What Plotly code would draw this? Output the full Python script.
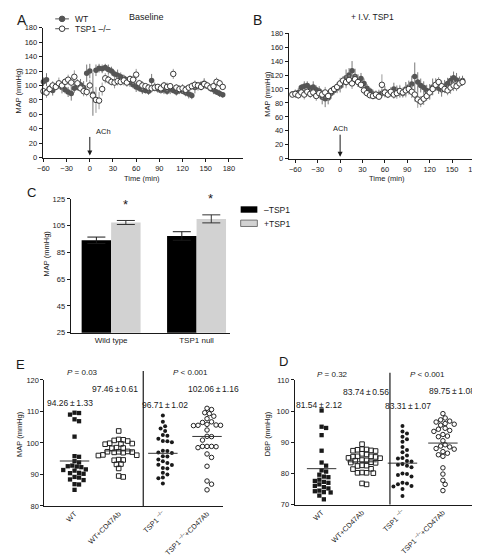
import plotly.graph_objects as go

W, H = 480, 558
FONT = "Liberation Sans, Arial, Helvetica, sans-serif"
INK = "#1a1a1a"

# ---------------- DATA ----------------
# Panel A (Baseline): time course of MAP
time_a = [-60, -56, -52, -48, -44, -40, -36, -32, -28, -24,
          -20, -16, -12, -8, -4, 0, 4, 8, 12, 16,
          20, 24, 28, 32, 36, 40, 44, 48, 52, 56,
          60, 64, 68, 72, 76, 80, 84, 88, 92, 96,
          100, 104, 108, 112, 116, 120, 124, 128, 132, 136,
          140, 144, 148, 152, 156, 160, 164, 168, 172]
wt_a = [105, 108, 96, 93, 99, 101, 97, 94, 91, 89,
        96, 98, 101, 97, 117, 120, 88, 121, 124, 123,
        125, 122, 120, 116, 114, 112, 110, 108, 104, 101,
        98, 96, 94, 93, 92, 107, 98, 95, 93, 94,
        92, 95, 93, 91, 94, 92, 90, 88, 86, 97,
        99, 101, 103, 99, 96, 94, 91, 89, 87]
wt_a_err = [6, 9, 5, 7, 4, 6, 8, 5, 7, 10,
            6, 5, 8, 9, 12, 10, 30, 8, 6, 6,
            5, 7, 6, 5, 8, 6, 5, 4, 6, 5,
            7, 5, 6, 4, 5, 9, 6, 5, 4, 6,
            5, 7, 4, 5, 6, 4, 5, 6, 5, 8,
            6, 5, 7, 4, 5, 6, 4, 5, 4]
ko_a = [92, 90, 95, 100, 98, 103, 100, 105, 108, 104,
        112, 103, 96, 92, 91, 100, 86, 80, 79, 95,
        110, 108, 105, 104, 106, 105, 107, 104, 109, 108,
        115, 103, 100, 99, 97, 96, 97, 98, 96, 100,
        98, 99, 116, 97, 95, 96, 94, 97, 99, 101,
        100, 98, 102, 100, 97, 99, 105, 103, 98]
ko_a_err = [5, 7, 4, 6, 5, 8, 6, 5, 7, 6,
            9, 6, 5, 7, 6, 8, 10, 18, 12, 9,
            7, 6, 5, 8, 6, 5, 7, 6, 5, 6,
            8, 5, 6, 4, 5, 6, 5, 4, 6, 5,
            6, 4, 7, 5, 4, 6, 5, 4, 5, 6,
            4, 5, 6, 5, 4, 5, 6, 5, 4]

# Panel B (+ I.V. TSP1)
time_b = [-64, -60, -56, -52, -48, -44, -40, -36, -32, -28,
          -24, -20, -16, -12, -8, -4, 0, 4, 8, 12,
          16, 20, 24, 28, 32, 36, 40, 44, 48, 52,
          56, 60, 64, 68, 72, 76, 80, 84, 88, 92,
          96, 100, 104, 108, 112, 116, 120, 124, 128, 132,
          136, 140, 144, 148, 152, 156, 160, 164]
wt_b = [93, 94, 95, 102, 104, 105, 101, 103, 99, 97,
        88, 86, 87, 94, 98, 101, 104, 110, 116, 120,
        126, 118, 112, 115, 108, 101, 97, 93, 91, 92,
        94, 96, 93, 95, 100, 98, 96, 94, 100, 103,
        107, 118, 110, 105, 102, 98, 96, 103, 106, 101,
        99, 104, 108, 112, 116, 113, 110, 112]
wt_b_err = [4, 5, 6, 5, 7, 6, 5, 8, 6, 7,
            10, 12, 9, 8, 6, 7, 9, 8, 12, 10,
            14, 11, 9, 8, 7, 6, 5, 6, 5, 7,
            6, 8, 6, 5, 9, 7, 8, 6, 10, 9,
            12, 20, 14, 10, 9, 8, 11, 12, 9, 8,
            10, 9, 8, 7, 9, 10, 8, 7]
ko_b = [92, 93, 91, 95, 92, 96, 93, 95, 90, 94,
        92, 95, 90, 97, 100, 103, 108, 112, 110, 113,
        108, 114, 110, 106, 98, 94, 91, 90, 92, 89,
        106, 95, 92, 96, 92, 94, 97, 95, 98, 100,
        96, 92, 85, 82, 86, 90, 95, 100, 106, 110,
        104, 100, 98, 102, 105, 104, 108, 110]
ko_b_err = [4, 6, 5, 4, 7, 5, 6, 5, 7, 5,
            6, 8, 7, 6, 5, 7, 8, 6, 9, 7,
            8, 6, 7, 5, 6, 5, 4, 5, 6, 4,
            15, 6, 5, 7, 6, 8, 9, 7, 10, 8,
            9, 10, 12, 8, 9, 7, 10, 8, 9, 7,
            8, 6, 7, 9, 8, 7, 6, 5]
time_ticks = [-60, -30, 0, 30, 60, 90, 120, 150, 180]
map_ticks = [0, 20, 40, 60, 80, 100, 120, 140, 160, 180]

# Panel C (bar chart)
c_groups = ["Wild type", "TSP1 null"]
c_minus = [94.1, 97.3]
c_minus_err = [2.4, 3.2]
c_plus = [107.4, 110.1]
c_plus_err = [1.5, 3.0]
c_ticks = [25, 45, 65, 85, 105, 125]

# Panels E / D (scatter)
cats = ["WT", "WT+CD47Ab", "TSP1 <sup>–/–</sup>", "TSP1 <sup>–/–</sup>+CD47Ab"]
e_wt = [109.6, 109.0, 109.5, 107.5, 106.9, 102.0, 95.8, 95.6, 94.2, 93.8, 92.8, 92.6, 92.5, 92.3,
        91.6, 91.4, 91.2, 90.5, 90.4, 90.2, 89.2, 89.0, 88.4, 88.2, 86.9, 86.8, 85.1]
e_wt_ab = [103.8, 101.1, 101.0, 100.8, 100.6, 99.9, 99.8, 99.7, 99.6, 98.5, 98.4, 98.3, 97.3, 97.2,
           97.2, 97.1, 97.0, 96.9, 96.2, 96.1, 96.0, 94.7, 94.6, 94.5, 93.3, 93.2, 91.9, 89.5, 89.2]
e_ko = [108.7, 106.7, 105.3, 104.6, 103.8, 102.5, 102.3, 101.3, 100.6, 100.5, 100.2, 97.5, 97.4, 96.8,
        97.0, 95.7, 95.8, 94.7, 94.2, 93.6, 93.1, 93.0, 91.9, 92.0, 90.5, 90.0, 89.0, 88.8, 87.1]
e_ko_ab = [111.0, 110.6, 109.6, 109.3, 108.5, 107.7, 106.7, 106.5, 105.9, 105.6, 105.6, 105.5, 105.7,
           104.1, 102.0, 102.1, 100.9, 98.9, 98.9, 98.8, 98.5, 98.9, 96.5, 95.4, 92.6, 87.9, 86.9, 85.1]
e_means = [94.26, 97.46, 96.71, 102.06]
e_sems = [1.33, 0.61, 1.02, 1.16]
e_pvals = ["= 0.03", "&lt; 0.001"]
e_ticks = [80, 90, 100, 110, 120]

d_wt = [100.2, 95.0, 94.6, 92.3, 87.3, 83.5, 82.5, 81.0, 80.6, 79.6, 79.0, 78.8, 78.0, 77.6, 77.3,
        77.0, 76.5, 76.0, 75.6, 75.2, 74.5, 74.3, 74.0, 73.9, 72.9, 71.7]
d_wt_ab = [89.4, 87.8, 87.7, 87.6, 87.4, 87.3, 87.2, 86.3, 86.1, 85.5, 85.4, 85.5, 85.3, 85.0, 84.9,
           84.2, 84.1, 84.3, 83.5, 83.4, 83.6, 82.5, 82.4, 82.6, 81.5, 81.4, 80.2, 80.1, 80.3, 80.2,
           76.8, 76.5]
d_ko = [95.2, 93.5, 92.8, 91.8, 91.0, 90.2, 88.5, 87.5, 86.8, 85.8, 85.0, 84.8, 84.0, 83.8, 83.0,
        82.8, 82.5, 82.0, 80.0, 79.8, 79.5, 79.0, 77.0, 76.8, 76.5, 76.0, 75.8, 75.0, 72.8]
d_ko_ab = [99.2, 97.8, 97.2, 96.8, 96.5, 96.0, 95.8, 95.5, 94.5, 94.2, 93.8, 93.5, 92.5, 92.0, 91.8,
           90.5, 89.2, 88.8, 88.5, 88.0, 87.8, 87.0, 86.5, 86.0, 85.5, 81.8, 79.8, 77.8, 76.5, 74.5]
d_means = [81.54, 83.74, 83.31, 89.75]
d_sems = [2.12, 0.56, 1.07, 1.08]
d_pvals = ["= 0.32", "&lt; 0.001"]
d_ticks = [70, 80, 90, 100, 110]


# ---------------- HELPERS ----------------
def fx(px):
    return px / W


def fy(py):
    return 1 - py / H


def axis(**kw):
    d = dict(showline=True, linecolor=INK, linewidth=1, showgrid=False, zeroline=False,
             ticks="outside", ticklen=3, tickwidth=1, tickcolor=INK,
             tickfont=dict(size=7.5, color=INK, family=FONT), fixedrange=True)
    d.update(kw)
    return d


def ann(px, py, text, size=8, xanchor="center", yanchor="middle", **kw):
    return dict(x=fx(px), y=fy(py), xref="paper", yref="paper", text=text, showarrow=False,
                xanchor=xanchor, yanchor=yanchor,
                font=dict(size=size, color=INK, family=FONT), **kw)


def swarm(vals, ppu, ppc, d=4.6):
    order = sorted(range(len(vals)), key=lambda i: -vals[i])
    placed = []
    off = [0.0] * len(vals)
    cands = [0.0]
    for j in range(1, 30):
        cands += [j * d / 2, -j * d / 2]
    for i in order:
        y = vals[i] * ppu
        chosen = cands[-1]
        for c in cands:
            if all((c - px) ** 2 + (y - py) ** 2 >= d * d for px, py in placed):
                chosen = c
                break
        placed.append((chosen, y))
        off[i] = chosen / ppc
    return off


fig = go.Figure()

# ---------------- A & B time courses ----------------
def ts(t, v, e, xa, ya, filled):
    if filled:
        mk = dict(symbol="circle", size=5.5, color="#555555", line=dict(width=0))
        ec = "#777777"
    else:
        mk = dict(symbol="circle", size=5.5, color="white", line=dict(color="#3a3a3a", width=1))
        ec = "#9a9a9a"
    fig.add_trace(go.Scatter(x=t, y=v, mode="markers", marker=mk, xaxis=xa, yaxis=ya,
                             error_y=dict(type="data", array=e, visible=True, color=ec,
                                          thickness=1, width=0),
                             cliponaxis=False, showlegend=False))


ts(time_a, wt_a, wt_a_err, "x", "y", True)
ts(time_a, ko_a, ko_a_err, "x", "y", False)
ts(time_b, wt_b, wt_b_err, "x2", "y2", True)
ts(time_b, ko_b, ko_b_err, "x2", "y2", False)

# ---------------- C bars ----------------
fig.add_trace(go.Bar(x=c_groups, y=c_minus, name="–TSP1", marker=dict(color="black", line=dict(width=0)),
                     error_y=dict(type="data", array=c_minus_err, color=INK, thickness=1, width=9),
                     xaxis="x3", yaxis="y3", showlegend=False))
fig.add_trace(go.Bar(x=c_groups, y=c_plus, name="+TSP1", marker=dict(color="#d2d2d2", line=dict(width=0)),
                     error_y=dict(type="data", array=c_plus_err, color="#333", thickness=1, width=9),
                     xaxis="x3", yaxis="y3", showlegend=False))

# ---------------- E & D scatter ----------------
E_PPU, E_PPC = 3.2, 45.0
D_PPU, D_PPC = 3.17, 41.2
styles = [
    dict(symbol="square", size=4.3, color=INK, line=dict(width=0)),
    dict(symbol="square-open", size=4.6, color="#222", line=dict(width=1)),
    dict(symbol="circle", size=4, color=INK, line=dict(width=0)),
    dict(symbol="circle-open", size=4.5, color="#222", line=dict(width=1)),
]


def dots(groups, means, ppu, ppc, xa, ya):
    for k, vals in enumerate(groups):
        off = swarm(vals, ppu, ppc)
        fig.add_trace(go.Scatter(x=[k + o for o in off], y=vals, mode="markers", marker=styles[k],
                                 xaxis=xa, yaxis=ya, showlegend=False, cliponaxis=False))
        hw = 15.0 / ppc
        fig.add_trace(go.Scatter(x=[k - hw, k + hw], y=[means[k], means[k]], mode="lines",
                                 line=dict(color="#333", width=1), xaxis=xa, yaxis=ya,
                                 showlegend=False))


dots([e_wt, e_wt_ab, e_ko, e_ko_ab], e_means, E_PPU, E_PPC, "x4", "y4")
dots([d_wt, d_wt_ab, d_ko, d_ko_ab], d_means, D_PPU, D_PPC, "x5", "y5")

# ---------------- LAYOUT ----------------
catfont = dict(size=7.2, color=INK, family=FONT)
layout = dict(
    width=W, height=H, margin=dict(l=0, r=0, t=0, b=0),
    paper_bgcolor="white", plot_bgcolor="white", showlegend=False,
    font=dict(family=FONT, color=INK),
    barmode="group", bargap=0.31, bargroupgap=0,
    xaxis=axis(domain=[fx(29.2), fx(233.2)], range=[-61, 198], tickvals=time_ticks, anchor="y"),
    yaxis=axis(domain=[fy(148), fy(16)], range=[0, 180], tickvals=map_ticks, anchor="x"),
    xaxis2=axis(domain=[fx(280), fx(473)], range=[-68.8, 184.9], tickvals=time_ticks, anchor="y2"),
    yaxis2=axis(domain=[fy(149.2), fy(21.5)], range=[0, 180], tickvals=map_ticks, anchor="x2"),
    xaxis3=axis(domain=[fx(57.7), fx(220)], range=[-0.474, 1.39], ticks="", anchor="y3",
                tickfont=dict(size=8, color=INK, family=FONT)),
    yaxis3=axis(domain=[fy(326), fy(190)], range=[25, 125], tickvals=c_ticks, anchor="x3"),
    xaxis4=axis(domain=[fx(31), fx(213)], range=[-0.682, 3.362], tickvals=[0, 1, 2, 3],
                ticktext=cats, tickangle=-45, ticks="", anchor="y4", tickfont=catfont),
    yaxis4=axis(domain=[fy(502), fy(374)], range=[80, 120], tickvals=e_ticks, anchor="x4"),
    xaxis5=axis(domain=[fx(286), fx(473)], range=[-0.667, 3.871], tickvals=[0, 1, 2, 3],
                ticktext=cats, tickangle=-45, ticks="", anchor="y5", tickfont=catfont),
    yaxis5=axis(domain=[fy(500.7), fy(374)], range=[70, 110], tickvals=d_ticks, anchor="x5"),
)

shapes = []
# Legend of A
for py, fill in [(7, "#555555"), (17, "white")]:
    shapes.append(dict(type="line", xref="paper", yref="paper", x0=fx(42), x1=fx(56),
                       y0=fy(py), y1=fy(py), line=dict(color="#555", width=1)))
    shapes.append(dict(type="circle", xref="paper", yref="paper", xsizemode="pixel",
                       ysizemode="pixel", xanchor=fx(49), yanchor=fy(py), x0=-2.8, x1=2.8,
                       y0=-2.8, y1=2.8, fillcolor=fill,
                       line=dict(color="#3a3a3a" if fill == "white" else fill, width=1)))
# Legend of C
shapes.append(dict(type="rect", xref="paper", yref="paper", x0=fx(231), x1=fx(248),
                   y0=fy(204), y1=fy(197.5), fillcolor="black", line=dict(width=0)))
shapes.append(dict(type="rect", xref="paper", yref="paper", x0=fx(231), x1=fx(248),
                   y0=fy(218), y1=fy(211.5), fillcolor="#d2d2d2", line=dict(color="#555", width=0.8)))
# Dividers in E & D
shapes.append(dict(type="line", xref="x4", yref="paper", x0=1.556, x1=1.556, y0=fy(502), y1=fy(365),
                   line=dict(color=INK, width=1.2)))
shapes.append(dict(type="line", xref="x5", yref="paper", x0=1.69, x1=1.69, y0=fy(500.7), y1=fy(366.7),
                   line=dict(color=INK, width=1.2)))
layout["shapes"] = shapes

anns = [
    ann(8, 8, "A", size=14),
    ann(135, 5, "Baseline", size=9),
    ann(60, 7, "WT", size=8.5, xanchor="left"),
    ann(60, 17, "TSP1 –/–", size=8.5, xanchor="left"),
    ann(5, 80, "MAP (mmHg)", size=7.5, textangle=-90),
    ann(130, 169, "Time (min)", size=7.5),
    ann(82, 121.5, "ACh", size=7.5, xanchor="left"),
    ann(248, 8, "B", size=14),
    ann(365, 5, "+ I.V. TSP1", size=8.5),
    ann(258, 83, "MAP (mmHg)", size=7.5, textangle=-90),
    ann(380, 169, "Time (min)", size=7.5),
    ann(18, 183, "C", size=13),
    ann(33, 245, "MAP (mmHg)", size=7.5, textangle=-90),
    ann(113.3, 196, "*", size=13),
    ann(200, 189.5, "*", size=13),
    ann(253, 201, "–TSP1", size=8.5, xanchor="left"),
    ann(253, 215, "+TSP1", size=8.5, xanchor="left"),
    ann(7, 358, "E", size=13),
    ann(5, 429, "MAP (mmHg)", size=7.5, textangle=-90),
    ann(275, 355, "D", size=13),
    ann(258, 429, "DBP (mmHg)", size=7.5, textangle=-90),
]
# arrows for ACh
anns.append(dict(x=0, y=3, xref="x", yref="y", text="", showarrow=True, ax=0, ay=-20,
                 arrowhead=2, arrowsize=1, arrowwidth=1, arrowcolor=INK))
anns.append(dict(x=0, y=3, xref="x2", yref="y2", text="ACh", showarrow=True, ax=0, ay=-28,
                 arrowhead=2, arrowsize=1, arrowwidth=1, arrowcolor=INK,
                 font=dict(size=7.5, color=INK, family=FONT)))

# P values and mean labels
for (px, py), p in zip([(70, 366), (180, 366)], e_pvals):
    anns.append(ann(px, py, "<i>P</i> " + p, size=8))
for (px, py), p in zip([(325, 368), (421.7, 368)], d_pvals):
    anns.append(ann(px, py, "<i>P</i> " + p, size=8))
for (px, py), m, s in zip([(56.7, 397.7), (103.3, 383.3), (154.3, 399), (203.3, 383.3)], e_means, e_sems):
    anns.append(ann(px, py, f"{m:.2f}\u2009±\u2009{s:.2f}", size=8.5))
for (px, py), m, s in zip([(310.7, 399), (358.3, 386), (401.7, 400.7), (446.7, 385)], d_means, d_sems):
    anns.append(ann(px, py, f"{m:.2f}\u2009±\u2009{s:.2f}", size=8.5))
layout["annotations"] = anns

fig.update_layout(**layout)
fig.write_html("out.html")
